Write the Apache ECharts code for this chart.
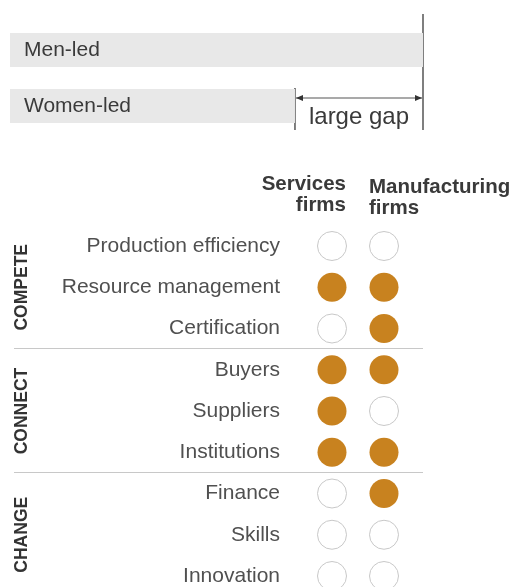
<!DOCTYPE html>
<html>
<head>
    <meta charset="utf-8">
    <title>Gap chart</title>
    <script src="https://cdn.jsdelivr.net/npm/echarts@6/dist/echarts.min.js"></script>
    <style>
        html, body { margin: 0; padding: 0; background: #fff; }
        #chart { width: 516px; height: 587px; }
    </style>
</head>
<body>
<div id="chart"></div>
<script>
    // top bars
    var barCategories = ['Men-led', 'Women-led'];
    var barValues = [100, 69];
    var gapLabel = 'large gap';

    // table
    var columns = ['Services firms', 'Manufacturing firms'];
    var rows = ['Production efficiency', 'Resource management', 'Certification',
        'Buyers', 'Suppliers', 'Institutions',
        'Finance', 'Skills', 'Innovation'];
    var groups = ['COMPETE', 'CONNECT', 'CHANGE'];
    var groupStart = [0, 3, 6];
    var services = [0, 1, 0, 1, 1, 1, 0, 0, 0];
    var manufacturing = [0, 1, 1, 1, 0, 1, 1, 0, 0];

    var font = 'Liberation Sans, Arial, sans-serif';
    var orange = '#C8821F';

    function dot(v, col, row) {
        return {
            value: [col, row],
            itemStyle: v ? { color: orange, borderWidth: 0, opacity: 1 }
                         : { color: '#fff', borderColor: '#c8c8c8', borderWidth: 1, opacity: 1 }
        };
    }

    var chart = echarts.init(document.getElementById('chart'), null, { renderer: 'canvas' });

    var option = {
        animation: false,
        textStyle: { fontFamily: font },
        grid: [
            { left: 10, top: 22, width: 413, height: 112 },
            { left: 306, top: 246, width: 104, bottom: 11 }
        ],
        xAxis: [
            { gridIndex: 0, type: 'value', min: 0, max: 100, show: false },
            { gridIndex: 1, type: 'category', data: columns, show: false }
        ],
        yAxis: [
            { gridIndex: 0, type: 'category', data: barCategories, inverse: true, show: false },
            {
                gridIndex: 1, type: 'category', data: rows, inverse: true, boundaryGap: false,
                axisLine: { show: false }, axisTick: { show: false }, splitLine: { show: false },
                axisLabel: { margin: 26, fontSize: 21, color: '#505050', fontFamily: font }
            }
        ],
        series: [
            {
                type: 'bar', xAxisIndex: 0, yAxisIndex: 0,
                data: barValues, barWidth: 34,
                itemStyle: { color: '#e8e8e8' },
                label: {
                    show: true, position: 'insideLeft', distance: 14,
                    formatter: function (p) { return p.name; },
                    fontSize: 21, color: '#3a3a3a', fontFamily: font
                }
            },
            {
                type: 'scatter', xAxisIndex: 1, yAxisIndex: 1,
                symbolSize: 29, clip: false,
                data: services.map(function (v, i) { return dot(v, 0, i); })
            },
            {
                type: 'scatter', xAxisIndex: 1, yAxisIndex: 1,
                symbolSize: 29, clip: false,
                data: manufacturing.map(function (v, i) { return dot(v, 1, i); })
            }
        ]
    };
    chart.setOption(option);

    // annotations placed from the axes
    var g = [];
    var xFull = chart.convertToPixel({ gridIndex: 0 }, [barValues[0], 0])[0];
    var xWomen = chart.convertToPixel({ gridIndex: 0 }, [barValues[1], 1])[0];
    var lineStyle = { stroke: '#555', lineWidth: 1.5 };
    g.push({ type: 'line', shape: { x1: xFull, y1: 14, x2: xFull, y2: 130 }, style: lineStyle });
    g.push({ type: 'line', shape: { x1: xWomen, y1: 88, x2: xWomen, y2: 130 }, style: lineStyle });
    var ay = 98;
    g.push({ type: 'line', shape: { x1: xWomen + 1, y1: ay, x2: xFull - 1, y2: ay }, style: { stroke: '#555', lineWidth: 1.2 } });
    g.push({ type: 'polygon', shape: { points: [[xWomen + 1, ay], [xWomen + 8, ay - 3], [xWomen + 8, ay + 3]] }, style: { fill: '#333' } });
    g.push({ type: 'polygon', shape: { points: [[xFull - 1, ay], [xFull - 8, ay - 3], [xFull - 8, ay + 3]] }, style: { fill: '#333' } });
    g.push({
        type: 'text', x: (xWomen + xFull) / 2, y: 117,
        style: { text: gapLabel, font: '24px ' + font, fill: '#3a3a3a', align: 'center', verticalAlign: 'middle' }
    });

    // column headers
    var cx0 = chart.convertToPixel({ gridIndex: 1 }, [0, 0])[0];
    var cx1 = chart.convertToPixel({ gridIndex: 1 }, [1, 0])[0];
    var hs = { font: 'bold 20.5px ' + font, fill: '#3a3a3a', lineHeight: 21, verticalAlign: 'top' };
    g.push({ type: 'text', x: cx0 + 14, y: 174, style: Object.assign({ text: columns[0].replace(' ', '\n'), align: 'right' }, hs) });
    g.push({ type: 'text', x: cx1 - 15, y: 177, style: Object.assign({ text: columns[1].replace(' ', '\n'), align: 'left' }, hs) });

    // group separators and labels
    function rowY(i) { return chart.convertToPixel({ gridIndex: 1 }, [0, i])[1]; }
    for (var k = 0; k < groups.length; k++) {
        var s = groupStart[k];
        var e = k + 1 < groups.length ? groupStart[k + 1] : rows.length;
        if (k > 0) {
            var sy = Math.round((rowY(s - 1) + rowY(s)) / 2) - 0.5;
            g.push({ type: 'line', shape: { x1: 14, y1: sy, x2: xFull, y2: sy }, style: { stroke: '#c8c8c8', lineWidth: 1 } });
        }
        var my = (rowY(s) + rowY(e - 1)) / 2;
        g.push({
            type: 'text', x: 22, y: my, rotation: Math.PI / 2,
            style: { text: groups[k], font: 'bold 17.5px ' + font, fill: '#333', align: 'center', verticalAlign: 'middle' }
        });
    }
    chart.setOption({ graphic: g });

    window.onresize = function () { chart.resize(); };
</script>
</body>
</html>
